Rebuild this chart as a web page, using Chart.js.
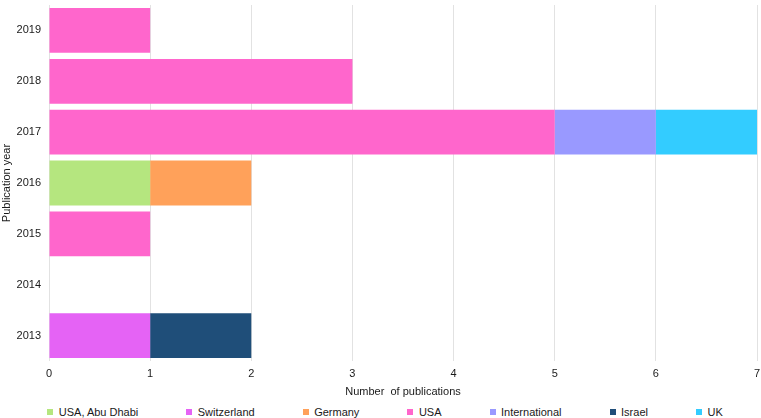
<!DOCTYPE html>
<html>
<head>
<meta charset="utf-8">
<script src="https://cdn.jsdelivr.net/npm/chart.js@4"></script>
<style>
    html, body { margin: 0; padding: 0; background: #fff; }
    .wrap { width: 761px; height: 400px; position: relative; }
    .legend {
        width: 752px; height: 18px; padding: 3px 0 0 9px;
        display: flex; justify-content: center; align-items: center; gap: 48px;
        font-family: 'Liberation Sans', Arial, sans-serif; font-size: 11px; color: #1a1a1a;
        line-height: 18px;
    }
    .legend span.item { display: flex; align-items: center; white-space: nowrap; }
    .legend i { display: inline-block; width: 6px; height: 6px; margin-right: 5.5px; }
</style>
</head>
<body>
<div class="wrap"><canvas class="pubs"></canvas></div>
<div class="legend"></div>
<script>
const years = ["2019", "2018", "2017", "2016", "2015", "2014", "2013"]
const xTicks = [0, 1, 2, 3, 4, 5, 6, 7]

// one array per country, same order as years
const usaAbuDhabi   = [0, 0, 0, 1, 0, 0, 0]
const switzerland   = [0, 0, 0, 0, 0, 0, 1]
const germany       = [0, 0, 0, 1, 0, 0, 0]
const usa           = [1, 3, 5, 0, 1, 0, 0]
const international = [0, 0, 1, 0, 0, 0, 0]
const israel        = [0, 0, 0, 0, 0, 0, 1]
const uk            = [0, 0, 1, 0, 0, 0, 0]

Chart.defaults.font.family = "'Liberation Sans', Arial, sans-serif"
Chart.defaults.font.size = 11
Chart.defaults.color = "#1a1a1a"

const canvas = document.querySelector(".pubs")
const legendBox = document.querySelector(".legend")

const set = (label, data, color) => ({
    label: label,
    data: data,
    backgroundColor: color,
    borderWidth: 0,
    barPercentage: 0.88,
    categoryPercentage: 1
})

const config = {
    type: 'bar',
    data: {
        labels: years,
        datasets: [
            set("USA, Abu Dhabi", usaAbuDhabi, "#b5e67f"),
            set("Switzerland", switzerland, "#e563f5"),
            set("Germany", germany, "#ffa15a"),
            set("USA", usa, "#ff66cc"),
            set("International", international, "#9999ff"),
            set("Israel", israel, "#1f4e79"),
            set("UK", uk, "#33ccff")
        ]
    },
    options: {
        indexAxis: 'y',
        responsive: true,
        maintainAspectRatio: false,
        animation: false,
        layout: { padding: { top: 5, right: 4, left: 0, bottom: 0 } },
        plugins: {
            tooltip: { enabled: false },
            legend: { display: false }
        },
        scales: {
            x: {
                stacked: true,
                min: 0,
                max: 7,
                afterBuildTicks: (axis) => { axis.ticks = xTicks.map(v => ({ value: v })) },
                grid: { color: "#e2e2e2", lineWidth: 1, drawTicks: false },
                border: { display: false },
                ticks: { padding: 6, font: { size: 11 } },
                title: {
                    display: true,
                    text: "Number  of publications",
                    font: { size: 11 },
                    padding: { top: 2, bottom: 1 }
                },
                afterFit: (scale) => {
                    scale.height = 39
                    scale.paddingLeft = 0
                    scale.paddingRight = 0
                }
            },
            y: {
                stacked: true,
                grid: { display: false, drawTicks: false },
                border: { display: false },
                ticks: { padding: 8, font: { size: 11 } },
                title: {
                    display: true,
                    text: "Publication year",
                    font: { size: 11 },
                    padding: { top: 0, bottom: 0 }
                },
                afterFit: (scale) => {
                    scale.width = 49
                    scale.paddingTop = 0
                    scale.paddingBottom = 0
                }
            }
        }
    }
}

const chart = new Chart(canvas, config)

// legend row, built from the chart's own datasets
chart.data.datasets.forEach(ds => {
    const item = document.createElement("span")
    item.className = "item"
    const box = document.createElement("i")
    box.style.background = ds.backgroundColor
    item.appendChild(box)
    item.appendChild(document.createTextNode(ds.label))
    legendBox.appendChild(item)
})
</script>
</body>
</html>
